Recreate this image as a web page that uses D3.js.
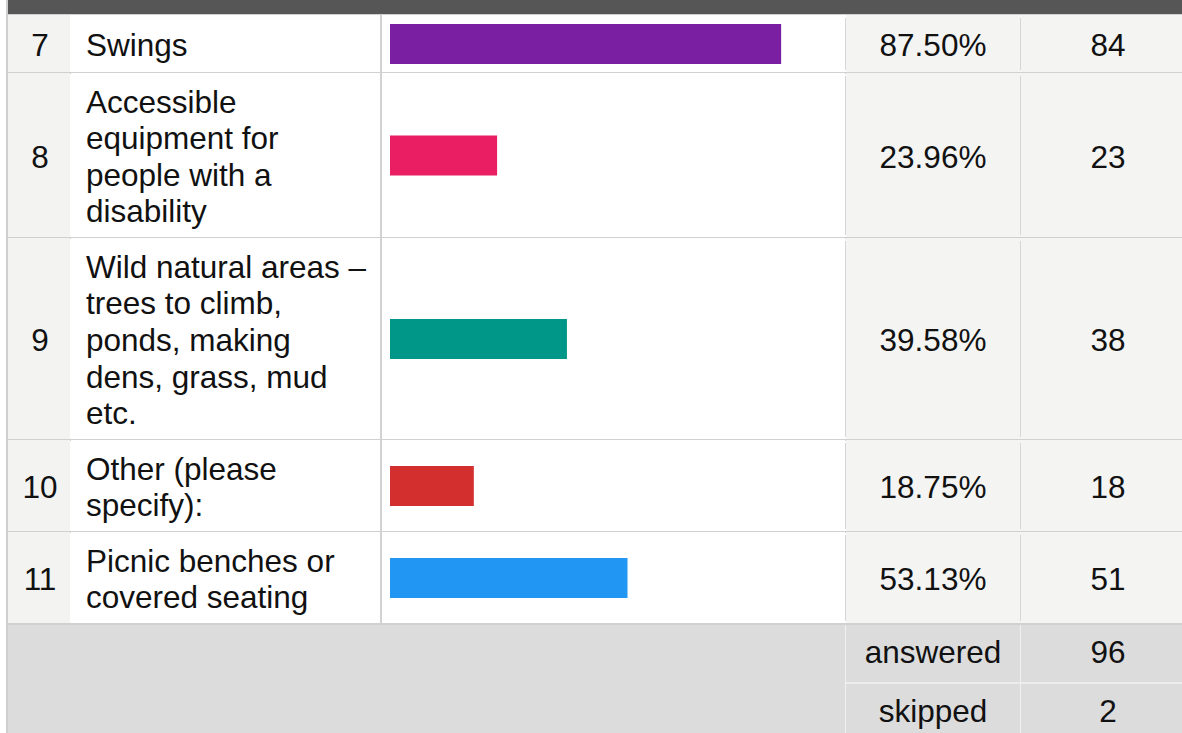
<!DOCTYPE html>
<html>
<head>
<meta charset="utf-8">
<script src="https://cdn.jsdelivr.net/npm/d3@7/dist/d3.min.js"></script>
<style>
  html,body{margin:0;padding:0;background:#fff;}
  svg{display:block;font-family:"Liberation Sans",Arial,sans-serif;}
  .cell-text{font-size:31.5px;fill:#111;}
</style>
</head>
<body>
<div id="chart"></div>
<script>
/* Survey answer table: rows 7-11 with a bar for each answer share. */
var rowNums=[7,8,9,10,11];
var labels=["Swings",
    "Accessible\nequipment for\npeople with a\ndisability",
    "Wild natural areas \u2013\ntrees to climb,\nponds, making\ndens, grass, mud\netc.",
    "Other (please\nspecify):",
    "Picnic benches or\ncovered seating"];
var percents=[87.50,23.96,39.58,18.75,53.13];
var counts=[84,23,38,18,51];
var barColors=["#7b1fa2","#e91e63","#009688","#d32f2f","#2196f3"];
var footLabels=["answered","skipped"];
var footValues=[96,2];

var W=1182,H=733;
var svg=d3.select("#chart").append("svg").attr("width",W).attr("height",H);

// column edges
var cNum=[8,70],cLab=[71,380],cBar=[382,845],cPct=[846,1020],cCnt=[1021,1196];
var lineH=36.6, tableTop=15;

var rows=rowNums.map(function(n,i){
    var lines=labels[i].split("\n");
    return {num:n,lines:lines,pct:percents[i],count:counts[i],color:barColors[i],
        h:Math.max(58,Math.floor(lines.length*36.5+19.5))};
});
var yPos=tableTop;
rows.forEach(function(r){r.y0=yPos;yPos+=r.h;r.y1=yPos;r.cy=(r.y0+r.y1)/2;});
var footTop=yPos;

var x=d3.scaleLinear().domain([0,100]).range([390,837]);

// header strip + left edge
svg.append("rect").attr("x",8).attr("y",0).attr("width",W-8).attr("height",14).attr("fill","#555655");
svg.append("rect").attr("x",6).attr("y",0).attr("width",2).attr("height",H).attr("fill","#cfcfcf");
svg.append("rect").attr("x",8).attr("y",14).attr("width",W-8).attr("height",1).attr("fill","#d0d0d0");

var g=svg.append("g");
var row=g.selectAll("g.row").data(rows).enter().append("g").attr("class","row");

// cell backgrounds
row.append("rect").attr("x",cNum[0]).attr("y",function(d){return d.y0;}).attr("width",cNum[1]-cNum[0])
    .attr("height",function(d){return d.h;}).attr("fill","#f3f3f2");
row.append("rect").attr("x",cLab[0]).attr("y",function(d){return d.y0;}).attr("width",cBar[1]-cLab[0])
    .attr("height",function(d){return d.h;}).attr("fill","#fff");
row.append("rect").attr("x",cPct[0]).attr("y",function(d){return d.y0;}).attr("width",cCnt[1]-cPct[0])
    .attr("height",function(d){return d.h;}).attr("fill","#f4f4f3");

// dividers
row.append("rect").attr("x",cLab[1]).attr("y",function(d){return d.y0;}).attr("width",2)
    .attr("height",function(d){return d.h;}).attr("fill","#d2d2d2");
row.append("rect").attr("x",cBar[1]).attr("y",function(d){return d.y0+3;}).attr("width",1)
    .attr("height",function(d){return d.h-6;}).attr("fill","#d6d6d6");
row.append("rect").attr("x",cPct[1]).attr("y",function(d){return d.y0+3;}).attr("width",1)
    .attr("height",function(d){return d.h-6;}).attr("fill","#d6d6d6");
row.append("rect").attr("x",8).attr("y",function(d){return d.y1-1;}).attr("width",W-8).attr("height",2)
    .attr("fill","#d0d0d0");

// bars
row.append("rect").attr("x",x(0)).attr("y",function(d){return d.cy-20;})
    .attr("width",function(d){return x(d.pct)-x(0);}).attr("height",40)
    .attr("fill",function(d){return d.color;});

// texts
row.append("text").attr("class","cell-text").attr("text-anchor","middle")
    .attr("x",(cNum[0]+cNum[1])/2+1).attr("y",function(d){return d.cy+12;}).text(function(d){return d.num;});
row.append("text").attr("class","cell-text")
    .each(function(d){
        var t=d3.select(this), first=d.cy+12-(d.lines.length-1)*lineH/2;
        d.lines.forEach(function(l,i){
            t.append("tspan").attr("x",86).attr("y",first+i*lineH).text(l);
        });
    });
row.append("text").attr("class","cell-text").attr("text-anchor","middle")
    .attr("x",933).attr("y",function(d){return d.cy+12;}).text(function(d){return d.pct.toFixed(2)+"%";});
row.append("text").attr("class","cell-text").attr("text-anchor","middle")
    .attr("x",1108).attr("y",function(d){return d.cy+12;}).text(function(d){return d.count;});

// footer
svg.append("rect").attr("x",8).attr("y",footTop+1).attr("width",W-8).attr("height",H-footTop).attr("fill","#dcdcdc");
var fh=59;
var foot=svg.append("g").selectAll("g").data(footLabels).enter().append("g");
foot.append("rect").attr("x",cBar[1]).attr("y",function(d,i){return footTop+1+i*fh;}).attr("width",1)
    .attr("height",fh).attr("fill","#f2f2f2");
foot.append("rect").attr("x",cPct[1]).attr("y",function(d,i){return footTop+1+i*fh;}).attr("width",1)
    .attr("height",fh).attr("fill","#f0f0f0");
foot.filter(function(d,i){return i>0;}).append("rect").attr("x",cPct[0]).attr("y",footTop+fh-1)
    .attr("width",W-cPct[0]).attr("height",2).attr("fill","#ececec");
foot.append("text").attr("class","cell-text").attr("text-anchor","middle")
    .attr("x",933).attr("y",function(d,i){return footTop+i*fh+fh/2+9;}).text(function(d){return d;});
foot.append("text").attr("class","cell-text").attr("text-anchor","middle")
    .attr("x",1108).attr("y",function(d,i){return footTop+i*fh+fh/2+9;}).text(function(d,i){return footValues[i];});
</script>
</body>
</html>
